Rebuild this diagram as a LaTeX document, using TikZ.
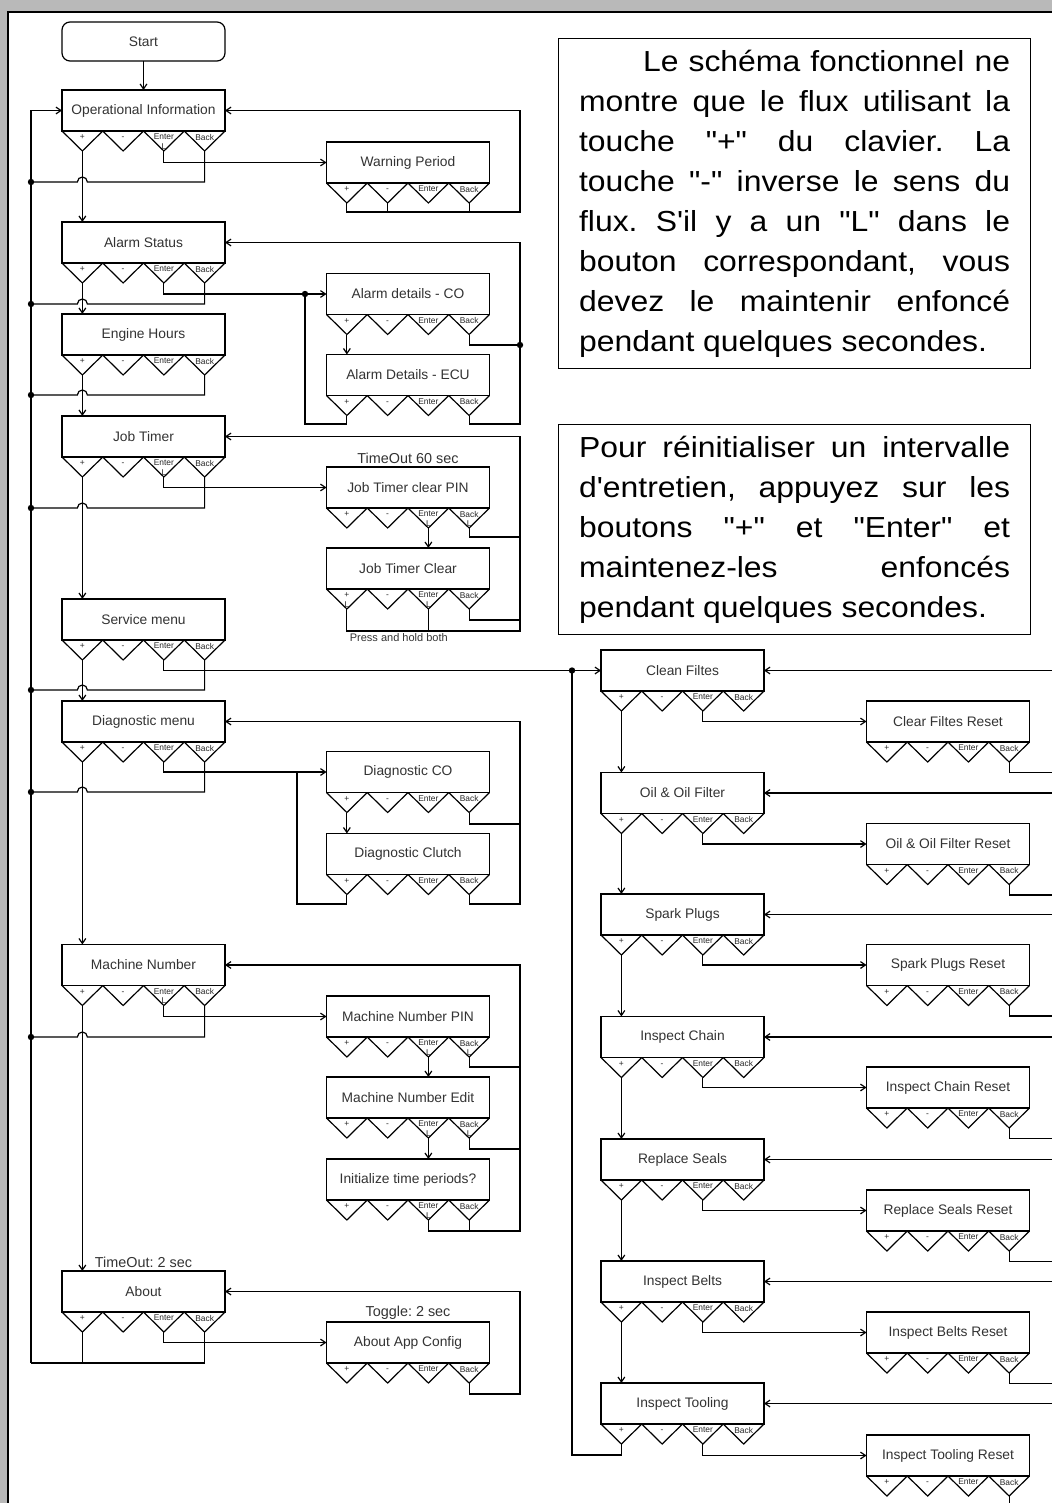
\documentclass[tikz,border=0pt]{standalone}
\usepackage{fontspec}
\newfontfamily\diagfont{Liberation Sans}
\newfontfamily\notefont[FakeStretch=1.1,Ligatures=TeXOff]{Liberation Sans}
\usetikzlibrary{calc,arrows.meta}

\tikzset{
  menu/.style={draw, minimum width=81.5pt, minimum height=20.5pt, inner sep=0pt,
    outer sep=0pt, text=black!80, font=\diagfont\fontsize{6.9}{8}\selectfont},
  startbox/.style={menu, minimum height=19.5pt, rounded corners=4pt},
  keylab/.style={inner sep=0pt, anchor=north, align=center, text=black!85,
    font=\diagfont\fontsize{4.2}{4.6}\selectfont},
  flow/.style={-{Straight Barb[length=2.5pt,width=3.4pt]}},
  tag/.style={inner sep=1.2pt, text=black!80, font=\diagfont\frenchspacing\fontsize{7.2}{8}\selectfont},
  note/.style={draw, anchor=north west, inner xsep=10.25pt, inner ysep=0pt,
    text width=215.5pt, align=justify, font=\notefont\frenchspacing\fontsize{14.5}{20}\selectfont}
}

% four keys under a menu box: + - Enter Back
\newcommand{\keypad}[5]{%
  \foreach \k/\lab [count=\i from 0] in {p/{#2},m/{#3},e/{#4},b/{#5}}{
    \coordinate (#1-\k) at ($(#1.south west)+({(\i+0.5)*40.75},20)$);
    \draw ($(#1.south west)+({\i*40.75},0)$) -- (#1-\k) -- ($(#1.south west)+({(\i+1)*40.75},0)$);
    \node[keylab] at ($(#1.south west)+({(\i+0.5)*40.75},2.5)$) {\vphantom{E}\lab};
  }%
}
% Back key down to the left bus, hopping over the + line
\newcommand{\tobus}[2]{%
  \draw (#1-b) |- ($(#1-p |- 0,#2)+(5,0)$) arc[start angle=0,end angle=180,radius=2.5pt] -- (bus |- 0,#2);
  \fill (bus |- 0,#2) circle (1.6pt);
}

\begin{document}
\begin{tikzpicture}[x=0.5pt,y=-0.5pt,line width=0.6pt]
\useasboundingbox (0,0) rectangle (1052,1503);
\fill[gray!55] (0,0) rectangle (1052,1503);
\fill[white] (8,12) rectangle (1052,1503);
\draw[line width=1pt] (8,1503) -- (8,12) -- (1052,12);

% main menu
\node[startbox] (start) at (143.5,41.5) {Start};
\node[menu] (opinfo) at (143.5,110.5) {Operational Information};
\node[menu] (alarm) at (143.5,242.5) {Alarm Status};
\node[menu] (engine) at (143.5,334.5) {Engine Hours};
\node[menu] (jobtimer) at (143.5,436.5) {Job Timer};
\node[menu] (service) at (143.5,619.5) {Service menu};
\node[menu] (diagmenu) at (143.5,721.5) {Diagnostic menu};
\node[menu] (machine) at (143.5,965) {Machine Number};
\node[menu] (about) at (143.5,1291.5) {About};

% sub menus
\node[menu] (warning) at (408,162.5) {Warning Period};
\node[menu] (alarmco) at (408,294) {Alarm details - CO};
\node[menu] (alarmecu) at (408,375) {Alarm Details - ECU};
\node[menu] (jobpin) at (408,487.5) {Job Timer clear PIN};
\node[menu] (jobclear) at (408,568.5) {Job Timer Clear};
\node[menu] (diagco) at (408,772) {Diagnostic CO};
\node[menu] (diagclutch) at (408,854) {Diagnostic Clutch};
\node[menu] (machpin) at (408,1016.5) {Machine Number PIN};
\node[menu] (machedit) at (408,1097.5) {Machine Number Edit};
\node[menu] (initper) at (408,1179.5) {Initialize time periods?};
\node[menu] (aboutcfg) at (408,1342.5) {About App Config};

% service items
\node[menu] (clean) at (682.5,670.5) {Clean Filtes};
\node[menu] (oil) at (682.5,793) {Oil \& Oil Filter};
\node[menu] (spark) at (682.5,914.5) {Spark Plugs};
\node[menu] (chain) at (682.5,1037) {Inspect Chain};
\node[menu] (seals) at (682.5,1159.5) {Replace Seals};
\node[menu] (belts) at (682.5,1281.5) {Inspect Belts};
\node[menu] (tooling) at (682.5,1403.5) {Inspect Tooling};
\node[menu] (cleanrst) at (948,721.5) {Clear Filtes Reset};
\node[menu] (oilrst) at (948,844) {Oil \& Oil Filter Reset};
\node[menu] (sparkrst) at (948,965) {Spark Plugs Reset};
\node[menu] (chainrst) at (948,1087.5) {Inspect Chain Reset};
\node[menu] (sealsrst) at (948,1210.5) {Replace Seals Reset};
\node[menu] (beltsrst) at (948,1332.5) {Inspect Belts Reset};
\node[menu] (toolingrst) at (948,1455.5) {Inspect Tooling Reset};

% keys
\keypad{opinfo}{+}{-}{Enter\\L}{Back}
\keypad{jobtimer}{+}{-}{Enter\\L}{Back}
\keypad{machine}{+}{-}{Enter\\L}{Back}
\keypad{jobpin}{+}{-}{Enter\\L}{Back\\L}
\keypad{machpin}{+}{-}{Enter\\L}{Back\\L}
\keypad{machedit}{+}{-}{Enter\\L}{Back\\L}
\keypad{jobclear}{+\\L}{-}{Enter\\L}{Back}
\keypad{initper}{+}{-}{Enter\\L}{Back}
\foreach \n in {alarm,engine,service,diagmenu,about,warning,alarmco,alarmecu,diagco,diagclutch,aboutcfg,
  clean,oil,spark,chain,seals,belts,tooling,cleanrst,oilrst,sparkrst,chainrst,sealsrst,beltsrst,toolingrst}
  {\keypad{\n}{+}{-}{Enter}{Back}}

% labels
\node[tag, anchor=south] (to60) at (jobpin.north) {TimeOut 60 sec};
\node[tag, anchor=south] (to2) at (about.north) {TimeOut: 2 sec};
\node[tag, anchor=south] (tog2) at (aboutcfg.north) {Toggle: 2 sec};

% helper points
\coordinate (bus) at (31,0);
\coordinate (bustail) at (31,1363);
\coordinate (edge) at (1052,0);
\coordinate (warnloop) at (520,212);
\coordinate (alarmdot) at (305,294);
\coordinate (codot) at (520,345);
\coordinate (eculoop) at (520,424);
\coordinate (pinret) at (520,537);
\coordinate (clrret) at (520,620);
\coordinate (jobloop) at (520,631);
\coordinate (diagjoin) at (297,772);
\coordinate (coret) at (520,824);
\coordinate (diagloop) at (520,904);
\coordinate (mpinret) at (520,1067);
\coordinate (meditret) at (520,1149);
\coordinate (machloop) at (520,1231);
\coordinate (cfgloop) at (520,1394);
\coordinate (svcdot) at (572,670.5);

\node[tag, anchor=north west, font=\diagfont\fontsize{5.5}{6}\selectfont] (hold) at (jobclear-p |- jobloop) {Press and hold both};

% + key goes to the next item
\draw[flow] (start) -- (opinfo);
\foreach \a/\b in {opinfo/alarm,alarm/engine,engine/jobtimer,jobtimer/service,service/diagmenu,diagmenu/machine,
  machine/about,alarmco/alarmecu,diagco/diagclutch,clean/oil,oil/spark,spark/chain,chain/seals,seals/belts,belts/tooling}
  \draw[flow] (\a-p) -- (\a-p |- \b.north);
\foreach \a/\b in {jobpin/jobclear,machpin/machedit,machedit/initper}
  \draw[flow] (\a-e) -- (\a-e |- \b.north);

% Enter key opens the sub menu
\foreach \a/\b in {opinfo/warning,alarm/alarmco,jobtimer/jobpin,diagmenu/diagco,machine/machpin,about/aboutcfg,
  service/clean,clean/cleanrst,oil/oilrst,spark/sparkrst,chain/chainrst,seals/sealsrst,belts/beltsrst,tooling/toolingrst}
  \draw[flow] (\a-e) |- (\b.west);

% left bus
\draw[flow] (bustail) -- (bus |- opinfo.west) -- (opinfo.west);
\tobus{opinfo}{182}
\tobus{alarm}{304}
\tobus{engine}{395}
\tobus{jobtimer}{508}
\tobus{service}{690}
\tobus{diagmenu}{792}
\tobus{machine}{1037}
\draw (bustail) -| (about-b);
\draw (about-p) -- (about-p |- bustail);

% returns from the sub menus
\draw[flow] (warning-p) |- (warnloop) |- (opinfo.east);
\draw (warning-m) -- (warning-m |- warnloop);
\draw (warning-b) -- (warning-b |- warnloop);

\draw[flow] (alarmecu-b) |- (eculoop) |- (alarm.east);
\draw (alarmco-b) |- (codot);
\draw (alarmecu-p) |- (alarmdot |- eculoop) -- (alarmdot);
\fill (alarmdot) circle (1.6pt);
\fill (codot) circle (1.6pt);

\draw[flow] (jobclear-p) |- (jobloop) |- (jobtimer.east);
\draw (jobclear-e) -- (jobclear-e |- jobloop);
\draw (jobpin-b) |- (pinret);
\draw (jobclear-b) |- (clrret);

\draw[flow] (diagclutch-b) |- (diagloop) |- (diagmenu.east);
\draw (diagco-b) |- (coret);
\draw (diagclutch-p) |- (diagjoin |- diagloop) -- (diagjoin);

\draw[flow] (initper-e) |- (machloop) |- (machine.east);
\draw (initper-b) -- (initper-b |- machloop);
\draw (machpin-b) |- (mpinret);
\draw (machedit-b) |- (meditret);

\draw[flow] (aboutcfg-b) |- (cfgloop) |- (about.east);

% service loop
\draw (tooling-p) -- ++(0,11) -| (svcdot);
\fill (svcdot) circle (1.6pt);
\foreach \m/\r in {clean/cleanrst,oil/oilrst,spark/sparkrst,chain/chainrst,seals/sealsrst,belts/beltsrst,tooling/toolingrst}{
  \draw[flow] (edge |- \m.east) -- (\m.east);
  \draw (\r-b) |- ($(edge |- \r-b)+(0,10.5)$);
}

% notes
\node[note, minimum height=165pt] (note1) at (558,38) {\hspace*{32pt}Le schéma fonctionnel ne\linebreak
  montre que le flux utilisant la\linebreak touche "+" du clavier. La\linebreak
  touche "-" inverse le sens du\linebreak flux. S'il y a un "L" dans le\linebreak
  bouton correspondant, vous\linebreak devez le maintenir enfoncé\linebreak
  pendant quelques secondes.};
\node[note, minimum height=105pt] (note2) at (558,424) {Pour réinitialiser un intervalle\linebreak
  d'entretien, appuyez sur les\linebreak boutons "+" et "Enter" et\linebreak
  maintenez-les enfoncés\linebreak pendant quelques secondes.};
\end{tikzpicture}
\end{document}
